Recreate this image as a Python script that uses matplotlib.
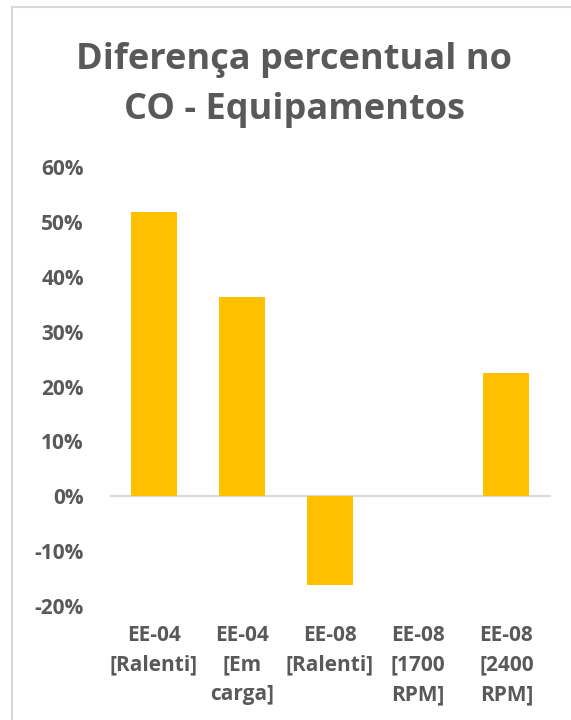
import matplotlib.pyplot as plt
from matplotlib.lines import Line2D
from matplotlib.ticker import FuncFormatter

categories = ["EE-04\n[Ralenti]", "EE-04\n[Em\ncarga]", "EE-08\n[Ralenti]",
              "EE-08\n[1700\nRPM]", "EE-08\n[2400\nRPM]"]
diferenca = [0.518, 0.363, -0.162, 0.0, 0.225]
y_ticks = [-0.2, -0.1, 0.0, 0.1, 0.2, 0.3, 0.4, 0.5, 0.6]

plt.rcParams['font.family'] = ['Open Sans', 'DejaVu Sans']
texto = '#595959'

fig = plt.figure(figsize=(5.71, 7.2), dpi=100)
ax = fig.add_axes([0.1918, 0.1583, 0.7723, 0.6097])

x = range(len(categories))
ax.bar(x, diferenca, width=0.52, color='#FFC000')
ax.axhline(0, color='#D9D9D9', lw=1.5, zorder=0)

ax.set_xlim(-0.5, len(categories) - 0.5)
ax.set_ylim(-0.2, 0.6)
ax.set_yticks(y_ticks)
ax.yaxis.set_major_formatter(FuncFormatter(lambda v, p: f"{v:.0%}"))
ax.set_xticks(list(x))
ax.set_xticklabels(categories, linespacing=1.52)
ax.tick_params(length=0, labelsize=15, labelcolor=texto)
ax.tick_params(axis='y', pad=18.5)
ax.tick_params(axis='x', pad=14)
for lbl in ax.get_xticklabels() + ax.get_yticklabels():
    lbl.set_fontweight('bold')
for s in ax.spines.values():
    s.set_visible(False)

fig.text(0.515, 0.882, "Diferença percentual no\nCO - Equipamentos", ha='center', va='center',
         fontsize=26, fontweight='bold', color=texto, linespacing=1.55)

# moldura da área do gráfico
fig.add_artist(Line2D([12 / 571, 12 / 571], [0, 1 - 7 / 720], color='#D9D9D9', lw=1.5))
fig.add_artist(Line2D([12 / 571, 1], [1 - 7 / 720, 1 - 7 / 720], color='#D9D9D9', lw=1.5))

fig.savefig('out.png', dpi=100)
